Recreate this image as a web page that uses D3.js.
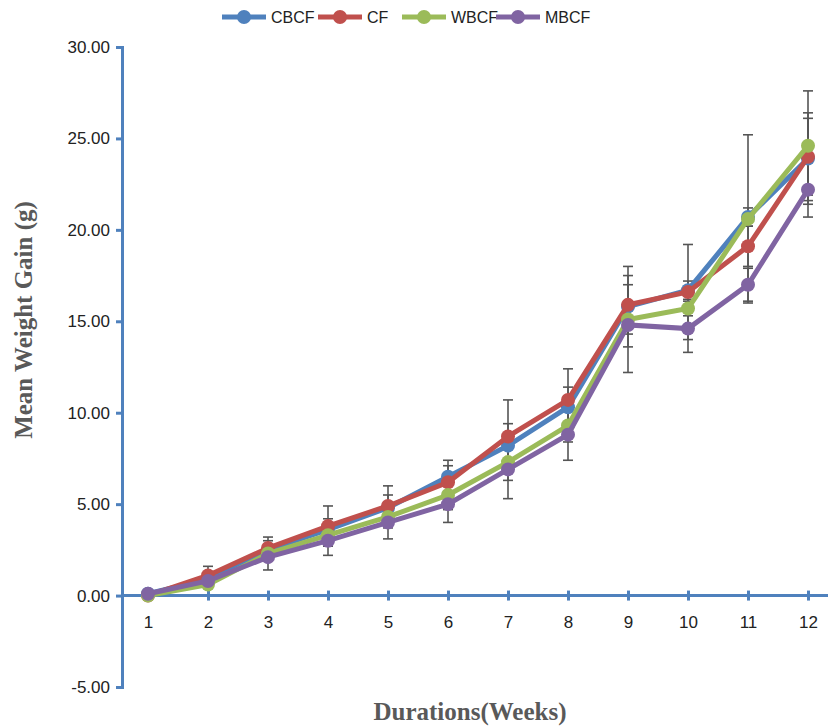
<!DOCTYPE html>
<html>
<head>
<meta charset="UTF-8">
<script src="https://d3js.org/d3.v7.min.js"></script>
<style>
  body { margin: 0; background: #fff; }
  svg { display: block; }
</style>
</head>
<body>
<svg width="830" height="727"></svg>
<script>
const weeks = [1, 2, 3, 4, 5, 6, 7, 8, 9, 10, 11, 12];
const seriesNames = ["CBCF", "CF", "WBCF", "MBCF"];
const colors = ["#4F81BD", "#C0504D", "#9BBB59", "#8064A2"];
const cbcf = [0.1, 0.9, 2.5, 3.6, 4.8, 6.5, 8.2, 10.3, 15.8, 16.7, 20.7, 23.9];
const cf   = [0.0, 1.1, 2.6, 3.8, 4.9, 6.2, 8.7, 10.7, 15.9, 16.6, 19.1, 24.0];
const wbcf = [0.0, 0.6, 2.3, 3.3, 4.3, 5.5, 7.3, 9.3, 15.1, 15.7, 20.6, 24.6];
const mbcf = [0.1, 0.8, 2.1, 3.0, 4.0, 5.0, 6.9, 8.8, 14.8, 14.6, 17.0, 22.2];
const errCbcf = [0, 0.3, 0.5, 0.6, 0.7, 0.9, 1.2, 1.1, 1.2, 0.5, 0.5, 2.5];
const errCf   = [0, 0.5, 0.6, 1.1, 1.1, 0.9, 2.0, 1.7, 1.6, 2.6, 1.1, 2.1];
const errWbcf = [0, 0.2, 0.4, 0.5, 0.6, 0.8, 1.0, 0.9, 2.9, 0.4, 4.6, 3.0];
const errMbcf = [0, 0.3, 0.7, 0.8, 0.9, 1.0, 1.6, 1.4, 1.2, 1.3, 0.9, 1.5];
const yTicks = [-5, 0, 5, 10, 15, 20, 25, 30];

const values = [cbcf, cf, wbcf, mbcf];
const errors = [errCbcf, errCf, errWbcf, errMbcf];

const svg = d3.select("svg");
const x = d3.scalePoint().domain(weeks).range([148, 808]);
const y = d3.scaleLinear().domain([-5, 30]).range([687, 47]);
const axisCol = "#4F81BD";
const fmt = d => d3.format(".2f")(d).replace("\u2212", "-");

// y axis
const yAxis = svg.append("g").attr("transform", "translate(122,0)")
  .call(d3.axisLeft(y).tickValues(yTicks).tickSize(6).tickFormat(fmt));
yAxis.select(".domain").attr("stroke", axisCol).attr("stroke-width", 3);
yAxis.selectAll(".tick line").attr("stroke", axisCol).attr("stroke-width", 3);
yAxis.selectAll(".tick text").attr("x", -12).attr("font-family", "Liberation Sans, Arial")
  .attr("font-size", 17).attr("fill", "#222");

// x axis at y=0
const xAxis = svg.append("g").attr("transform", `translate(0,${y(0)})`)
  .call(d3.axisBottom(x).tickSize(0).tickSizeOuter(0));
xAxis.select(".domain").attr("d", `M122,0H828`).attr("stroke", axisCol).attr("stroke-width", 3);
xAxis.selectAll(".tick").append("line").attr("y1", -5).attr("y2", 5)
  .attr("stroke", axisCol).attr("stroke-width", 3);
xAxis.selectAll(".tick text").attr("y", 20).attr("font-family", "Liberation Sans, Arial")
  .attr("font-size", 17).attr("fill", "#222");

// error bars
const eb = svg.append("g").attr("stroke", "#555").attr("stroke-width", 1.6);
values.forEach((vals, s) => {
  vals.forEach((v, i) => {
    const e = errors[s][i];
    if (!e) return;
    const cx = x(weeks[i]);
    eb.append("line").attr("x1", cx).attr("x2", cx).attr("y1", y(v - e)).attr("y2", y(v + e));
    [v - e, v + e].forEach(t => eb.append("line").attr("x1", cx - 5).attr("x2", cx + 5)
      .attr("y1", y(t)).attr("y2", y(t)));
  });
});

// lines
const line = d3.line().x((d, i) => x(weeks[i])).y(d => y(d));
values.forEach((vals, s) => {
  svg.append("path").datum(vals).attr("d", line).attr("fill", "none")
    .attr("stroke", colors[s]).attr("stroke-width", 5);
  svg.append("g").selectAll("circle").data(vals).join("circle")
    .attr("cx", (d, i) => x(weeks[i])).attr("cy", d => y(d)).attr("r", 7)
    .attr("fill", colors[s]);
});

// legend
const legX = [222, 318, 402, 496];
seriesNames.forEach((n, s) => {
  const g = svg.append("g").attr("transform", `translate(${legX[s]},17)`);
  g.append("line").attr("x1", 0).attr("x2", 44).attr("stroke", colors[s]).attr("stroke-width", 5);
  g.append("circle").attr("cx", 22).attr("r", 7).attr("fill", colors[s]);
  g.append("text").attr("x", 49).attr("y", 6).text(n).attr("font-family", "Liberation Sans, Arial")
    .attr("font-size", 16).attr("fill", "#222");
});

// titles
svg.append("text").attr("x", 470).attr("y", 720).attr("text-anchor", "middle")
  .attr("font-family", "Liberation Serif, Times New Roman").attr("font-weight", "bold")
  .attr("font-size", 25).attr("fill", "#595959").text("Durations(Weeks)");
svg.append("text").attr("transform", "translate(32,320) rotate(-90)").attr("text-anchor", "middle")
  .attr("font-family", "Liberation Serif, Times New Roman").attr("font-weight", "bold")
  .attr("font-size", 25).attr("fill", "#595959").text("Mean Weight Gain (g)");
</script>
</body>
</html>
